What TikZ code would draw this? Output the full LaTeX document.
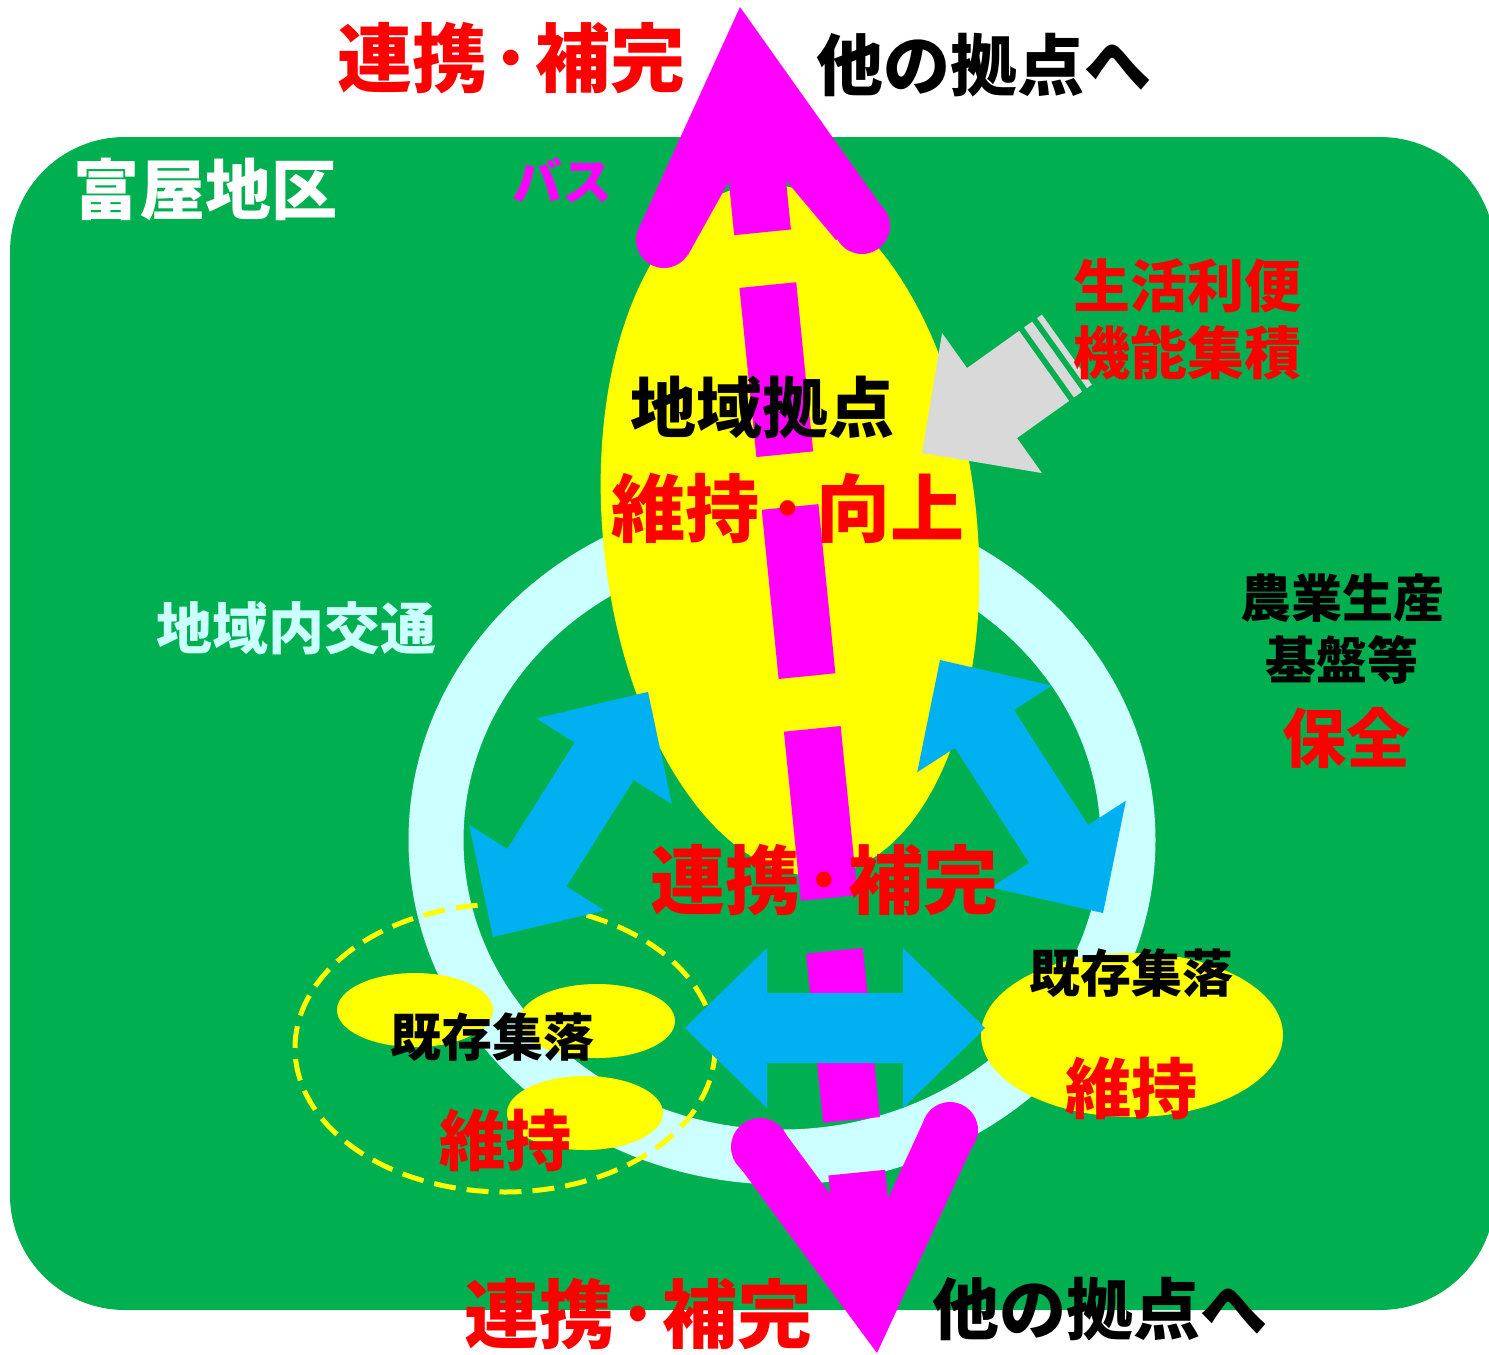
\documentclass[tikz,border=0pt]{standalone}
\usepackage{fontspec}
\setmainfont{Noto Sans CJK JP}
\definecolor{bggreen}{HTML}{00B050}
\definecolor{yel}{HTML}{FFFF00}
\definecolor{mag}{HTML}{FF00FF}
\definecolor{bluearr}{HTML}{00B0F0}
\definecolor{grayarr}{HTML}{D9D9D9}
\definecolor{ringc}{HTML}{CCFFFF}
\definecolor{redtxt}{HTML}{FF0000}
\newcommand\fs[1]{\fontsize{#1}{#1}\selectfont}
\newcommand\dt[1]{\kern#1em･\kern#1em}
\newcommand\dblarrow[4]{%
  \fill[bluearr, shift={(#1,#2)}, rotate=#3]
    (0,0) -- (82,80) -- (82,35) -- (#4-82,35) -- (#4-82,80) -- (#4,0)
    -- (#4-82,-80) -- (#4-82,-35) -- (82,-35) -- (82,-80) -- cycle;}
\tikzset{txt/.style={inner sep=0pt, anchor=center}}
\begin{document}
\begin{tikzpicture}[x=1pt,y=-1pt]
\useasboundingbox (0,0) rectangle (1489,1355);
\fill[white] (0,0) rectangle (1489,1355);
% green area
\fill[bggreen, rounded corners=115pt] (10,137) rectangle (1495,1310);
% ring
\draw[ringc, line width=55pt] (782,840) ellipse [x radius=346, y radius=317];
% yellow ellipses
\fill[yel, rotate around={5.8:(790,530)}] (790,530) ellipse [x radius=187, y radius=347];
\fill[yel] (1132,1035) ellipse [x radius=151, y radius=82];
\fill[yel] (415,1010) ellipse [x radius=78, y radius=37];
\fill[yel] (597,1021) ellipse [x radius=78, y radius=37];
\fill[yel] (585,1113) ellipse [x radius=78, y radius=37];
\draw[yel, line width=5pt, dash pattern=on 22pt off 11pt] (505,1048) ellipse [x radius=210, y radius=144];
% magenta bus line
\coordinate (mtop) at (751.3,120);
\coordinate (mbot) at (865.5,1260);
\draw[mag, line width=57pt, dash pattern=on 170pt off 53pt, dash phase=57.1pt] (mtop) -- (mbot);
\fill[mag] (740,7) -- (638,230) -- (688,255) -- (752,140) -- (836,240) -- (887,214) -- cycle;
\fill[mag] (664,240) circle [radius=28];
\fill[mag] (862,226) circle [radius=28];
\fill[mag] (877,1353) -- (733,1158) -- (785,1133) -- (867,1244) -- (925,1118) -- (978,1134) -- cycle;
\fill[mag] (760,1147) circle [radius=29];
\fill[mag] (950,1130) circle [radius=28];
% blue double arrows
\dblarrow{493}{937}{57.7}{290}
\dblarrow{940}{660}{-57.2}{301}
\dblarrow{685}{1028}{0}{300}
% gray striped arrow
\begin{scope}[shift={(922,453)}, rotate=35.5]
\fill[grayarr] (0,0) -- (86,-86) -- (86,-43) -- (150,-43) -- (150,43) -- (86,43) -- (86,86) -- cycle;
\fill[grayarr] (156,-43) rectangle (166,43);
\fill[grayarr] (172,-43) rectangle (178,43);
\end{scope}
% texts
\node[txt, text=redtxt, font=\fs{75}\bfseries] (t1) at (511,58) {連携\dt{0.07}補完};
\node[txt, text=black, font=\fs{67}\bfseries] (t2) at (984,65) {他の拠点へ};
\node[txt, text=white, font=\fs{66}\bfseries] (t3) at (205,189) {富屋地区};
\node[txt, text=mag, font=\fs{50}\bfseries] (t4) at (562,180) {バス};
\node[txt, text=redtxt, font=\fs{57}\bfseries] (t5) at (1187,286) {生活利便};
\node[txt, text=redtxt, font=\fs{57}\bfseries] (t6) at (1187,353) {機能集積};
\node[txt, text=black, font=\fs{66}\bfseries] (t7) at (762,407) {地域拠点};
\node[txt, text=redtxt, font=\fs{74}\bfseries] (t8) at (788,508) {維持\dt{0.14}向上};
\node[txt, text=redtxt, font=\fs{75}\bfseries] (t9) at (824,880) {連携\dt{0.07}補完};
\node[txt, text=redtxt, font=\fs{75}\bfseries] (t10) at (638,1314) {連携\dt{0.07}補完};
\node[txt, text=black, font=\fs{67}\bfseries] (t11) at (1100,1309) {他の拠点へ};
\node[txt, text=ringc, font=\fs{56}\bfseries] (t12) at (296,628) {地域内交通};
\node[txt, text=black, font=\fs{51}\bfseries] (t13) at (1342,598) {農業生産};
\node[txt, text=black, font=\fs{51}\bfseries] (t14) at (1342,660) {基盤等};
\node[txt, text=redtxt, font=\fs{64}\bfseries] (t15) at (1346,738) {保全};
\node[txt, text=black, font=\fs{51}\bfseries] (t16) at (492,1037) {既存集落};
\node[txt, text=redtxt, font=\fs{66}\bfseries] (t17) at (505,1140) {維持};
\node[txt, text=black, font=\fs{51}\bfseries] (t18) at (1131,973) {既存集落};
\node[txt, text=redtxt, font=\fs{66}\bfseries] (t19) at (1131,1088) {維持};
\end{tikzpicture}
\end{document}
